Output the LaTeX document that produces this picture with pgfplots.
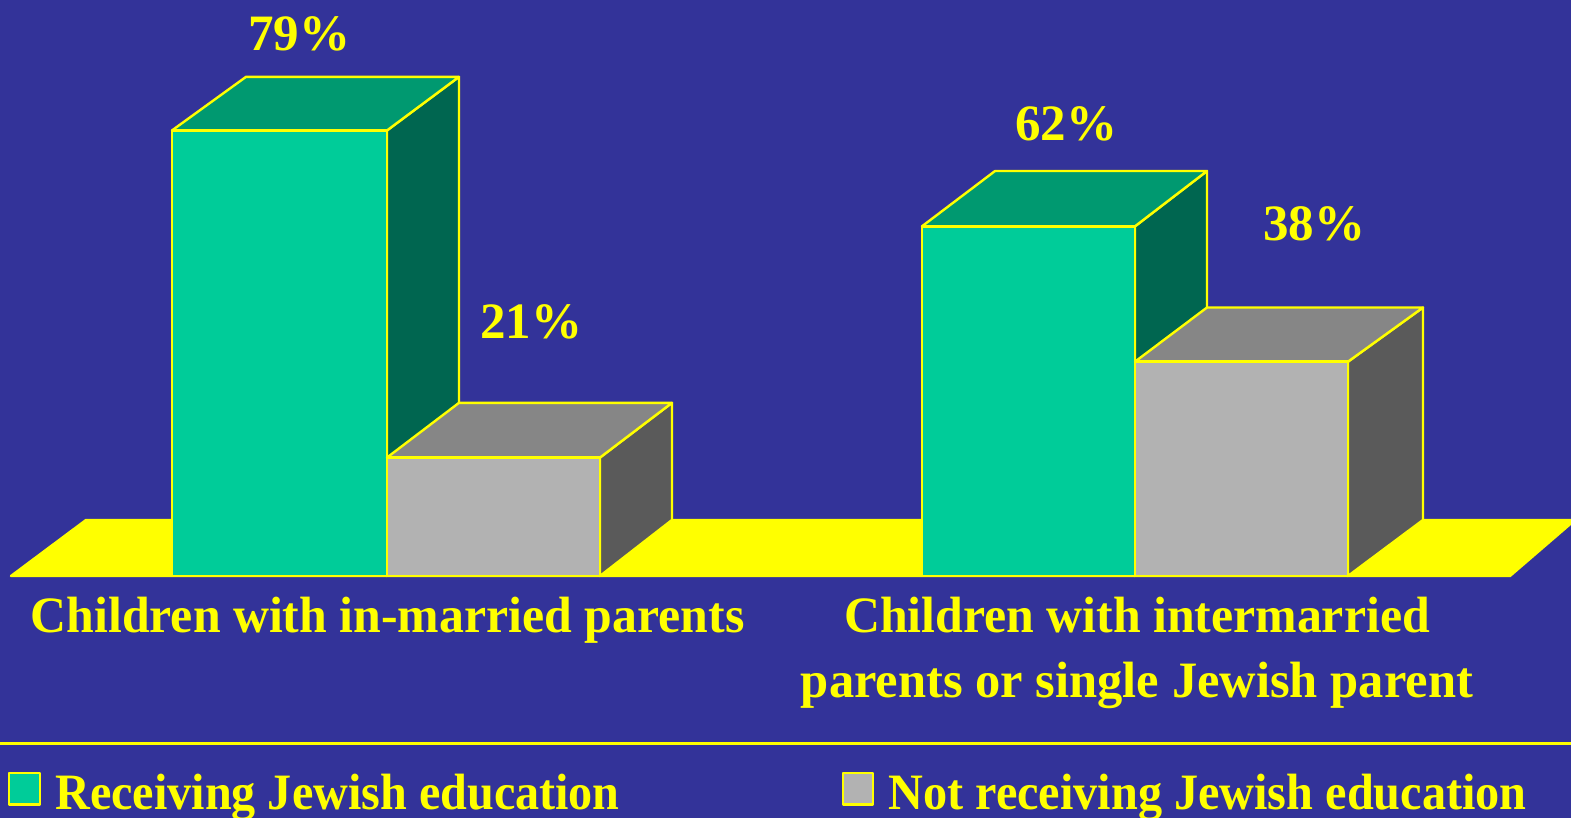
\documentclass[border=0pt]{standalone}
\usepackage{fontspec}
\setmainfont{Liberation Serif}
\usepackage{pgfplots}
\pgfplotsset{compat=1.18}

\definecolor{bgblue}{HTML}{333399}
\definecolor{hiyellow}{HTML}{FFFF00}
\definecolor{gfront}{HTML}{00CC99}
\definecolor{gtop}{HTML}{009970}
\definecolor{gside}{HTML}{006650}
\definecolor{nfront}{HTML}{B2B2B2}
\definecolor{ntop}{HTML}{868686}
\definecolor{nside}{HTML}{5A5A5A}

\tikzset{lab/.style={text=hiyellow, font=\fontsize{25.5}{30}\selectfont\bfseries}}

\begin{document}
\begin{tikzpicture}
\begin{axis}[
    scale only axis,
    width=785.5pt, height=409pt,
    xmin=0, xmax=1571,
    ymin=-42.91, ymax=102.13,
    axis lines=none,
    axis background/.style={fill=bgblue},
    every axis plot/.append style={draw=hiyellow, line width=1.2pt, line join=round, mark=none},
]
% floor
\addplot[fill=hiyellow] coordinates {(11,0) (86,9.93) (1575,9.93) (1510,0)} --cycle;

% in-married, receiving: 79
\addplot[fill=gside] coordinates {(387,0) (459,9.93) (459,88.5) (387,79)} --cycle;
\addplot[fill=gtop] coordinates {(172,79) (246,88.5) (459,88.5) (387,79)} --cycle;
\addplot[fill=gfront] coordinates {(172,0) (172,79) (387,79) (387,0)} --cycle;
% in-married, not receiving: 21
\addplot[fill=nside] coordinates {(600,0) (672,9.93) (672,30.7) (600,21)} --cycle;
\addplot[fill=ntop] coordinates {(387,21) (459,30.7) (672,30.7) (600,21)} --cycle;
\addplot[fill=nfront] coordinates {(387,0) (387,21) (600,21) (600,0)} --cycle;

% intermarried, receiving: 62
\addplot[fill=gside] coordinates {(1135,0) (1207,9.93) (1207,71.8) (1135,62)} --cycle;
\addplot[fill=gtop] coordinates {(922,62) (995,71.8) (1207,71.8) (1135,62)} --cycle;
\addplot[fill=gfront] coordinates {(922,0) (922,62) (1135,62) (1135,0)} --cycle;
% intermarried, not receiving: 38
\addplot[fill=nside] coordinates {(1348,0) (1423,9.93) (1423,47.6) (1348,38)} --cycle;
\addplot[fill=ntop] coordinates {(1135,38) (1207,47.6) (1423,47.6) (1348,38)} --cycle;
\addplot[fill=nfront] coordinates {(1135,0) (1135,38) (1348,38) (1348,0)} --cycle;

% rule and legend keys
\addplot[draw=hiyellow, mark=none, line width=1.4pt] coordinates {(-5,-29.75) (1576,-29.75)};
\addplot[fill=gfront] coordinates {(9,-34.98) (40,-34.98) (40,-40.5) (9,-40.5)} --cycle;
\addplot[fill=nfront] coordinates {(843,-34.98) (873,-34.98) (873,-40.5) (843,-40.5)} --cycle;

\node[lab, anchor=base] at (axis cs:299,93.25) {79\%};
\node[lab, anchor=base] at (axis cs:531,42.1) {21\%};
\node[lab, anchor=base] at (axis cs:1066,77.25) {62\%};
\node[lab, anchor=base] at (axis cs:1314,59.5) {38\%};
\node[lab, anchor=base, xscale=0.977, transform shape] at (axis cs:387.5,-10.1) {Children with in-married parents};
\node[lab, anchor=base, xscale=0.977, transform shape] at (axis cs:1137,-10.1) {Children with intermarried};
\node[lab, anchor=base, xscale=0.991, transform shape] at (axis cs:1137,-21.5) {parents or single Jewish parent};
\node[lab, anchor=base west, inner sep=0pt, xscale=0.944, transform shape] at (axis cs:55,-41.4) {Receiving Jewish education};
\node[lab, anchor=base west, inner sep=0pt, xscale=0.946, transform shape] at (axis cs:888,-41.4) {Not receiving Jewish education};
\end{axis}
\pgfresetboundingbox
\useasboundingbox (0,0) rectangle (785.5pt,409pt);
\end{tikzpicture}
\end{document}
